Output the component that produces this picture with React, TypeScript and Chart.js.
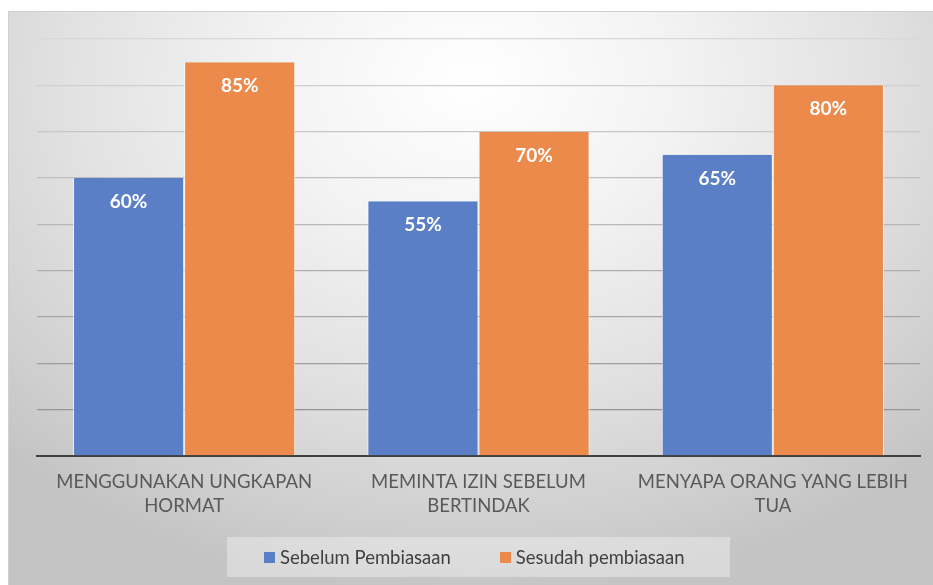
import React, { useEffect, useRef } from "react";
import { Chart, registerables } from "chart.js";

Chart.register(...registerables);

const categories: string[][] = [
  ["MENGGUNAKAN UNGKAPAN", "HORMAT"],
  ["MEMINTA IZIN SEBELUM", "BERTINDAK"],
  ["MENYAPA ORANG YANG LEBIH", "TUA"],
];
const seriesNames = ["Sebelum Pembiasaan", "Sesudah pembiasaan"];
const sebelum = [60, 55, 65];
const sesudah = [85, 70, 80];
const colors = ["#5A7FC7", "#EB8A4A"];

const dataLabelPlugin = {
  id: "dataLabels",
  afterDatasetsDraw(chart: any) {
    const ctx = chart.ctx;
    ctx.save();
    ctx.font = "bold 19px Lato";
    ctx.fillStyle = "#ffffff";
    ctx.textAlign = "center";
    ctx.textBaseline = "middle";
    chart.data.datasets.forEach((ds: any, i: number) => {
      const meta = chart.getDatasetMeta(i);
      meta.data.forEach((el: any, j: number) => {
        ctx.fillText(ds.data[j] + "%", el.x, el.y + 24);
      });
    });
    ctx.restore();
  },
};

function gridColor(v: number) {
  const t = Math.max(0, Math.min(1, (v - 10) / 80));
  const g = Math.round(0x95 + (0xd8 - 0x95) * t);
  return `rgb(${g},${g},${g})`;
}

export default function App() {
  const ref = useRef<HTMLCanvasElement>(null);
  useEffect(() => {
    if (!ref.current) return;
    const chart = new Chart(ref.current, {
      type: "bar",
      data: {
        labels: categories,
        datasets: [
          {
            label: seriesNames[0],
            data: sebelum,
            backgroundColor: colors[0],
            borderColor: "rgba(255,255,255,0.7)",
            borderWidth: { left: 1, right: 1, top: 0, bottom: 0 } as any,
            categoryPercentage: 0.755,
            barPercentage: 1,
          },
          {
            label: seriesNames[1],
            data: sesudah,
            backgroundColor: colors[1],
            borderColor: "rgba(255,255,255,0.7)",
            borderWidth: { left: 1, right: 1, top: 0, bottom: 0 } as any,
            categoryPercentage: 0.755,
            barPercentage: 1,
          },
        ],
      },
      options: {
        animation: false,
        responsive: true,
        maintainAspectRatio: false,
        layout: { padding: { left: 28, right: 13, top: 27, bottom: 61 } },
        plugins: {
          legend: { display: false },
          tooltip: { enabled: false },
        },
        scales: {
          x: {
            grid: { display: false },
            border: { display: true, color: "#404040", width: 2 },
            ticks: {
              color: "#595959",
              font: { family: "Lato", size: 18.5, lineHeight: 24 / 18.5 },
              padding: 6,
              maxRotation: 0,
              autoSkip: false,
            },
          },
          y: {
            min: 0,
            max: 90,
            ticks: { display: false, stepSize: 10 },
            border: { display: false },
            grid: {
              drawTicks: false,
              lineWidth: 1.3,
              color: (c: any) => (c.tick && c.tick.value === 0 ? "rgba(0,0,0,0)" : gridColor(c.tick ? c.tick.value : 50)),
            },
            afterFit: (s: any) => {
              s.width = 0;
            },
          },
        },
      },
      plugins: [dataLabelPlugin],
    });
    return () => chart.destroy();
  }, []);

  return (
    <div
      style={{
        position: "fixed",
        left: 8,
        top: 11,
        width: 925,
        height: 574,
        boxSizing: "border-box",
        borderTop: "1px solid #d0d0d0",
        borderLeft: "1px solid #d0d0d0",
        background:
          "radial-gradient(ellipse 72% 90% at 50% 12%, #ffffff 0%, #f3f3f3 30%, #e2e2e2 60%, #d0d0d0 85%, #c4c4c4 100%)",
      }}
    >
      <canvas ref={ref} />
      <div
        style={{
          position: "absolute",
          left: 218,
          top: 525,
          width: 503,
          height: 40,
          background: "rgba(255,255,255,0.35)",
          display: "flex",
          alignItems: "center",
          paddingLeft: 37,
          boxSizing: "border-box",
          fontFamily: "Lato",
          fontSize: 18.5,
          color: "#404040",
        }}
      >
        {seriesNames.map((n, i) => (
          <div key={n} style={{ display: "flex", alignItems: "center", marginRight: i === 0 ? 49 : 0 }}>
            <span style={{ width: 11, height: 11, background: colors[i], display: "inline-block", marginRight: 5 }} />
            <span>{n}</span>
          </div>
        ))}
      </div>
    </div>
  );
}
